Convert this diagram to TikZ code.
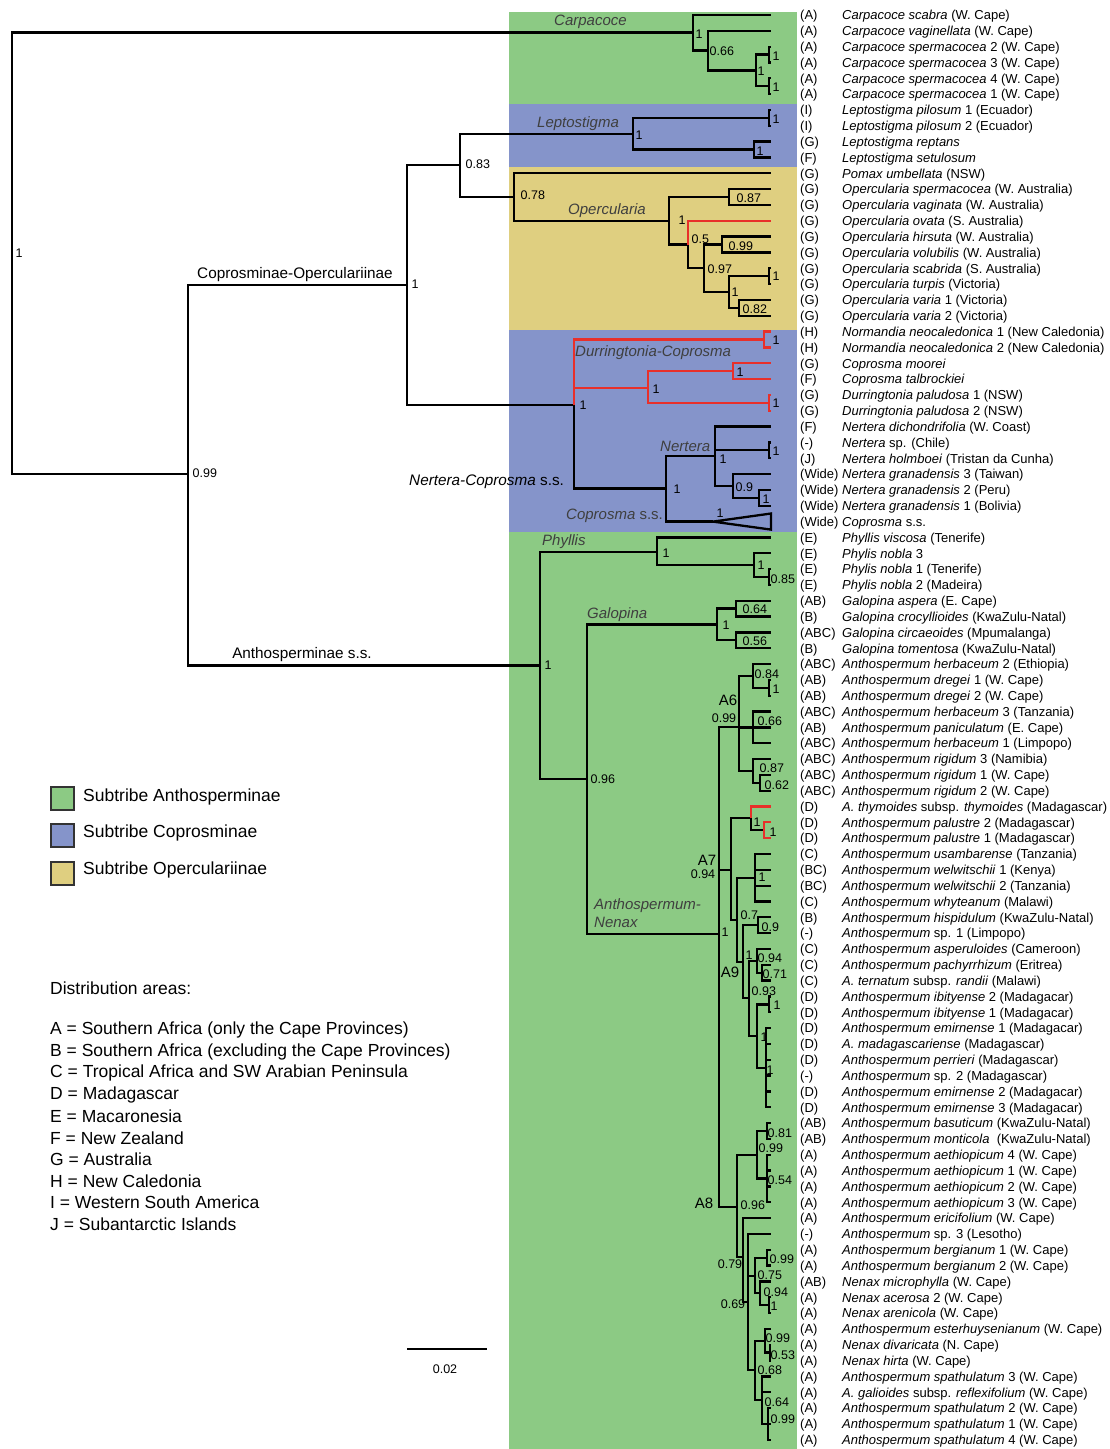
\documentclass[tikz,border=0pt]{standalone}
\usepackage{fontspec}
\setmainfont{Liberation Sans}
\usepackage{xcolor}
\usepackage{tikz}
\definecolor{trgreen}{HTML}{8CCA84}
\definecolor{trblue}{HTML}{8594CA}
\definecolor{tryellow}{HTML}{DFCF80}
\definecolor{trred}{HTML}{E8302A}
\definecolor{trgrey}{HTML}{3F3F3F}
\definecolor{trframe}{HTML}{333333}
\tikzset{
  br/.style={draw=black, line width=2.3pt},
  brred/.style={draw=trred, line width=2.3pt},
  sup/.style={anchor=west, inner sep=0.5pt, font=\fontsize{12.5}{14}\selectfont},
  supc/.style={inner sep=0.5pt, font=\fontsize{12.5}{14}\selectfont},
  clade/.style={anchor=west, inner sep=0pt, text=trgrey, font=\fontsize{15}{18}\selectfont\itshape},
  grp/.style={inner sep=0pt, font=\fontsize{15.3}{18}\selectfont},
  alab/.style={inner sep=0pt, font=\fontsize{15}{18}\selectfont},
  acode/.style={anchor=base west, inner sep=0pt, yshift=-4.8pt, font=\fontsize{13}{15}\selectfont},
  tlab/.style={anchor=base west, inner sep=0pt, yshift=-4.8pt, font=\fontsize{13}{15}\selectfont},
  legbox/.style={draw=trframe, line width=2pt, minimum size=23pt, inner sep=0pt},
  legtxt/.style={anchor=west, inner sep=0pt, font=\fontsize{17.5}{20}\selectfont}
}

\begin{document}
\begin{tikzpicture}[x=1pt, y=-1pt]
  \useasboundingbox (0,0) rectangle (1110,1449);
  % subtribe bands
  \fill[trgreen] (509,12) rectangle (797,104);
  \fill[trblue] (509,104) rectangle (797,167);
  \fill[tryellow] (509,167) rectangle (797,330);
  \fill[trblue] (509,330) rectangle (797,532);
  \fill[trgreen] (509,532) rectangle (797,1449);

  % tips and inner nodes
  \foreach \i in {1,...,91} \coordinate (t\i) at (771,{15+(\i-1)*15.83});
  \foreach \cn/\px/\py in {R/12/253, X/188/474, C1/693/32.5, C2/708/50.6, C3/756/70.4, C4/769/54.6, C5/769/86.2,
      CO/407/285, B/460/165, L1/633/133.7, L2/769/117.9, L3/754/149.6,
      O1/514/197.2, O2/669/221, O3/729/197, O4/688/244.5, O5/704/268, O6/722/244.5, O7/729/292, O8/769/276.2, O9/739/307.9,
      D0/574/405, D1/764/339.5, D2/648/387.8, D3/733/371.2, D4/769/402.8,
      N0/666/488.5, N1/715/456, N2/769/450.3, N3/733/486, N4/759/497.8, cs/713/521.6, csT/771/513.5, csB/771/529.6,
      A0/540/665.5, P1/657/552, P2/754/565, P3/769/577, G0/587/779, G1/717/624.5, G2/736/608.6, G3/736/640.3,
      AN/719/934, A6/739/727, A6a/753/676, A6b/769/687.8, A6c/753/727.4, A6d/753/771, A6e/760/782.8,
      A7/731/870, A7a/751/818, A7b/764/830.2, A7e/737/920, A7c/755/877.7,
      A9/743/962, A9a/758/925.2, A9b/749/998, A9c/757/961, A9e/762/972.7, A9d/757/1036, A9f/769/1004.4, A9g/766/1067.7,
      A8/737/1207, A8a/757/1155, A8j/767/1131, A8k/767/1178.5, A8b/743/1257, A8c/748/1302, A8d/755/1276,
      A8l/767/1257.7, A8f/760/1293, A8m/769/1305.1, A8e/755/1370, A8g/765/1341, A8n/770/1352.6, A8h/762/1400, A8i/768/1423.9}
    \coordinate (\cn) at (\px,\py);

  % branches
  \foreach \p/\c in {R/C1, R/X, C1/t1, C1/C2, C2/t2, C2/C3, C3/C4, C3/C5, C4/t3, C4/t4, C5/t5, C5/t6,
      X/CO, X/A0, CO/B, CO/D0, B/L1, B/O1, L1/L2, L1/L3, L2/t7, L2/t8, L3/t9, L3/t10,
      O1/t11, O1/O2, O2/O3, O2/O4, O3/t12, O3/t13, O4/O5, O5/O6, O5/O7, O6/t15, O6/t16,
      O7/O8, O7/O9, O8/t17, O8/t18, O9/t19, O9/t20,
      D0/N0, N0/N1, N0/cs, N1/t27, N1/N2, N1/N3, N2/t28, N2/t29, N3/t30, N3/N4, N4/t31, N4/t32,
      A0/P1, A0/G0, P1/t34, P1/P2, P2/t35, P2/P3, P3/t36, P3/t37,
      G0/G1, G0/AN, G1/G2, G1/G3, G2/t38, G2/t39, G3/t40, G3/t41,
      AN/A6, AN/A7, AN/A8,
      A6/A6a, A6/A6c, A6/A6d, A6a/t42, A6a/A6b, A6b/t43, A6b/t44, A6c/t45, A6c/t46, A6c/t47,
      A6d/t48, A6d/A6e, A6e/t49, A6e/t50,
      A7/A7a, A7/A7e, A7a/A7b, A7e/A7c, A7e/A9, A7c/t54, A7c/t55, A7c/t56, A7c/t57,
      A9/A9a, A9/A9b, A9a/t58, A9a/t59, A9b/A9c, A9b/A9d, A9c/t60, A9c/A9e, A9e/t61, A9e/t62,
      A9d/A9f, A9d/A9g, A9f/t63, A9f/t64, A9g/t65, A9g/t66, A9g/t67, A9g/t68, A9g/t69, A9g/t70,
      A8/A8a, A8/A8b, A8a/A8j, A8a/A8k, A8j/t71, A8j/t72, A8k/t73, A8k/t74, A8k/t75, A8k/t76,
      A8b/t77, A8b/A8c, A8c/t78, A8c/A8d, A8c/A8e, A8d/A8l, A8d/A8f, A8l/t79, A8l/t80,
      A8f/t81, A8f/A8m, A8m/t82, A8m/t83, A8e/A8g, A8e/A8h, A8g/t84, A8g/A8n, A8n/t85, A8n/t86,
      A8h/t87, A8h/t88, A8h/A8i, A8i/t89, A8i/t90, A8i/t91}
    \draw[br] (\p) |- (\c);
  \foreach \p/\c in {O4/t14, D0/D1, D0/D2, D1/t21, D1/t22, D2/D3, D2/D4, D3/t23, D3/t24,
      D4/t25, D4/t26, A7a/t51, A7b/t52, A7b/t53}
    \draw[brred] (\p) |- (\c);
  \draw[br] (cs) -- (csT) -- (csB) -- cycle;

  % support values
  \foreach \cn/\px/\py/\sv in {R/15/253/1, C1/695/34/1, C2/709/51/0.66, C3/757/71/1, C4/772/56/1, C5/772/87/1,
      L1/635/135/1, L2/772/119/1, L3/756/151/1, B/465/164/0.83,
      O1/520/195/0.78, O2/678/220/1, O3/736/198/0.87, O4/691/239/0.5, O5/707/269/0.97, O6/728/246/0.99,
      O7/731/292/1, O8/772/276/1, O9/742/309/0.82, CO/411/284/1, X/192/473/0.99,
      D0/579/405/1, D1/772/340/1, D2/652/389/1, D3/736/372/1, D4/772/403/1,
      N0/673/489/1, N1/719/459/1, N2/772/451/1, N3/735/487/0.9, N4/762/499/1, cs/716/513/1,
      A0/544/665/1, P1/662/553/1, P2/757/565/1, P3/770/579/0.85, G0/590/779/0.96, G1/722/625/1,
      G2/742/609/0.64, G3/742/641/0.56, AN/721/932/1,
      A6a/754/674/0.84, A6b/772/689/1, A6c/757/721/0.66, A6d/759/768/0.87, A6e/764/785/0.62,
      A7a/753/822/1, A7b/769/832/1, A7e/740/915/0.7, A7c/758/877/1,
      A9/745/955/1, A9a/761/927/0.9, A9b/751/991/0.93, A9c/757/958/0.94, A9e/762/974/0.71,
      A9d/760/1037/1, A9f/773/1005/1, A9g/766/1070/1,
      A8/740/1205/0.96, A8a/758/1148/0.99, A8j/767/1133/0.81, A8k/767/1180/0.54,
      A8d/757/1275/0.75, A8l/769/1259/0.99, A8f/763/1292/0.94, A8m/770/1306/1,
      A8e/757/1370/0.68, A8g/765/1338/0.99, A8n/770/1355/0.53, A8h/764/1402/0.64, A8i/770/1419/0.99}
    \node[sup] (s\cn) at (\px,\py) {\sv};
  \node[supc] (sA6) at (724,718) {0.99};
  \node[supc] (sA7) at (703,874) {0.94};
  \node[supc] (sA8b) at (730,1264) {0.79};
  \node[supc] (sA8c) at (733,1304) {0.69};
  \node[alab] (lA6) at (728,700) {A6};
  \node[alab] (lA7) at (707,860) {A7};
  \node[alab] (lA9) at (730,972) {A9};
  \node[alab] (lA8) at (704,1203) {A8};

  % group names
  \node[grp] (gCO) at (295,275) {Coprosminae-Operculariinae};
  \node[grp] (gAN) at (302,655) {Anthosperminae s.s.};
  \node[grp, anchor=west] (gNC) at (409,482) {\itshape Nertera-Coprosma\upshape\ s.s.};
  \node[clade] (cCa) at (554,22) {Carpacoce};
  \node[clade] (cLe) at (537,124) {Leptostigma};
  \node[clade] (cOp) at (568,211) {Opercularia};
  \node[clade] (cDu) at (575,353) {Durringtonia-Coprosma};
  \node[clade] (cNe) at (660,446) {Nertera};
  \node[clade] (cCo) at (566,516) {Coprosma\upshape\ s.s.};
  \node[clade] (cPh) at (542,542) {Phyllis};
  \node[clade] (cGa) at (587,615) {Galopina};
  \node[clade, align=left] (cAN) at (594,913) {Anthospermum-\\Nenax};

  % tip labels
  \foreach \ac/\nm [count=\i] in {
      (A)/{\textit{Carpacoce scabra} (W. Cape)}, (A)/{\textit{Carpacoce vaginellata} (W. Cape)},
      (A)/{\textit{Carpacoce spermacocea} 2 (W. Cape)}, (A)/{\textit{Carpacoce spermacocea} 3 (W. Cape)},
      (A)/{\textit{Carpacoce spermacocea} 4 (W. Cape)}, (A)/{\textit{Carpacoce spermacocea} 1 (W. Cape)},
      (I)/{\textit{Leptostigma pilosum} 1 (Ecuador)}, (I)/{\textit{Leptostigma pilosum} 2 (Ecuador)},
      (G)/{\textit{Leptostigma reptans}}, (F)/{\textit{Leptostigma setulosum}},
      (G)/{\textit{Pomax umbellata} (NSW)}, (G)/{\textit{Opercularia spermacocea} (W. Australia)},
      (G)/{\textit{Opercularia vaginata} (W. Australia)}, (G)/{\textit{Opercularia ovata} (S. Australia)},
      (G)/{\textit{Opercularia hirsuta} (W. Australia)}, (G)/{\textit{Opercularia volubilis} (W. Australia)},
      (G)/{\textit{Opercularia scabrida} (S. Australia)}, (G)/{\textit{Opercularia turpis} (Victoria)},
      (G)/{\textit{Opercularia varia} 1 (Victoria)}, (G)/{\textit{Opercularia varia} 2 (Victoria)},
      (H)/{\textit{Normandia neocaledonica} 1 (New Caledonia)}, (H)/{\textit{Normandia neocaledonica} 2 (New Caledonia)},
      (G)/{\textit{Coprosma moorei}}, (F)/{\textit{Coprosma talbrockiei}},
      (G)/{\textit{Durringtonia paludosa} 1 (NSW)}, (G)/{\textit{Durringtonia paludosa} 2 (NSW)},
      (F)/{\textit{Nertera dichondrifolia} (W. Coast)}, (-)/{\textit{Nertera} sp. (Chile)},
      (J)/{\textit{Nertera holmboei} (Tristan da Cunha)}, (Wide)/{\textit{Nertera granadensis} 3 (Taiwan)},
      (Wide)/{\textit{Nertera granadensis} 2 (Peru)}, (Wide)/{\textit{Nertera granadensis} 1 (Bolivia)},
      (Wide)/{\textit{Coprosma} s.s.}, (E)/{\textit{Phyllis viscosa} (Tenerife)},
      (E)/{\textit{Phylis nobla} 3}, (E)/{\textit{Phylis nobla} 1 (Tenerife)}, (E)/{\textit{Phylis nobla} 2 (Madeira)},
      (AB)/{\textit{Galopina aspera} (E. Cape)}, (B)/{\textit{Galopina crocyllioides} (KwaZulu-Natal)},
      (ABC)/{\textit{Galopina circaeoides} (Mpumalanga)}, (B)/{\textit{Galopina tomentosa} (KwaZulu-Natal)},
      (ABC)/{\textit{Anthospermum herbaceum} 2 (Ethiopia)}, (AB)/{\textit{Anthospermum dregei} 1 (W. Cape)},
      (AB)/{\textit{Anthospermum dregei} 2 (W. Cape)}, (ABC)/{\textit{Anthospermum herbaceum} 3 (Tanzania)},
      (AB)/{\textit{Anthospermum paniculatum} (E. Cape)}, (ABC)/{\textit{Anthospermum herbaceum} 1 (Limpopo)},
      (ABC)/{\textit{Anthospermum rigidum} 3 (Namibia)}, (ABC)/{\textit{Anthospermum rigidum} 1 (W. Cape)},
      (ABC)/{\textit{Anthospermum rigidum} 2 (W. Cape)}, (D)/{\textit{A. thymoides} subsp. \textit{thymoides} (Madagascar)},
      (D)/{\textit{Anthospermum palustre} 2 (Madagascar)}, (D)/{\textit{Anthospermum palustre} 1 (Madagascar)},
      (C)/{\textit{Anthospermum usambarense} (Tanzania)}, (BC)/{\textit{Anthospermum welwitschii} 1 (Kenya)},
      (BC)/{\textit{Anthospermum welwitschii} 2 (Tanzania)}, (C)/{\textit{Anthospermum whyteanum} (Malawi)},
      (B)/{\textit{Anthospermum hispidulum} (KwaZulu-Natal)}, (-)/{\textit{Anthospermum} sp. 1 (Limpopo)},
      (C)/{\textit{Anthospermum asperuloides} (Cameroon)}, (C)/{\textit{Anthospermum pachyrrhizum} (Eritrea)},
      (C)/{\textit{A. ternatum} subsp. \textit{randii} (Malawi)}, (D)/{\textit{Anthospermum ibityense} 2 (Madagacar)},
      (D)/{\textit{Anthospermum ibityense} 1 (Madagacar)}, (D)/{\textit{Anthospermum emirnense} 1 (Madagacar)},
      (D)/{\textit{A. madagascariense} (Madagascar)}, (D)/{\textit{Anthospermum perrieri} (Madagascar)},
      (-)/{\textit{Anthospermum} sp. 2 (Madagascar)}, (D)/{\textit{Anthospermum emirnense} 2 (Madagacar)},
      (D)/{\textit{Anthospermum emirnense} 3 (Madagacar)}, (AB)/{\textit{Anthospermum basuticum} (KwaZulu-Natal)},
      (AB)/{\textit{Anthospermum monticola}\ \ (KwaZulu-Natal)}, (A)/{\textit{Anthospermum aethiopicum} 4 (W. Cape)},
      (A)/{\textit{Anthospermum aethiopicum} 1 (W. Cape)}, (A)/{\textit{Anthospermum aethiopicum} 2 (W. Cape)},
      (A)/{\textit{Anthospermum aethiopicum} 3 (W. Cape)}, (A)/{\textit{Anthospermum ericifolium} (W. Cape)},
      (-)/{\textit{Anthospermum} sp. 3 (Lesotho)}, (A)/{\textit{Anthospermum bergianum} 1 (W. Cape)},
      (A)/{\textit{Anthospermum bergianum} 2 (W. Cape)}, (AB)/{\textit{Nenax microphylla} (W. Cape)},
      (A)/{\textit{Nenax acerosa} 2 (W. Cape)}, (A)/{\textit{Nenax arenicola} (W. Cape)},
      (A)/{\textit{Anthospermum esterhuysenianum} (W. Cape)}, (A)/{\textit{Nenax divaricata} (N. Cape)},
      (A)/{\textit{Nenax hirta} (W. Cape)}, (A)/{\textit{Anthospermum spathulatum} 3 (W. Cape)},
      (A)/{\textit{A. galioides} subsp. \textit{reflexifolium} (W. Cape)}, (A)/{\textit{Anthospermum spathulatum} 2 (W. Cape)},
      (A)/{\textit{Anthospermum spathulatum} 1 (W. Cape)}, (A)/{\textit{Anthospermum spathulatum} 4 (W. Cape)}}
  {
    \node[acode] (ac\i) at (800,{15+(\i-1)*15.83}) {\ac};
    \node[tlab] (tn\i) at (842,{15+(\i-1)*15.83}) {\nm};
  }

  % legend
  \node[legbox, fill=trgreen] (lg1) at (62.5,798.5) {};
  \node[legbox, fill=trblue] (lg2) at (62.5,835.5) {};
  \node[legbox, fill=tryellow] (lg3) at (62.5,873.5) {};
  \node[legtxt] (lt1) at (83,797) {Subtribe Anthosperminae};
  \node[legtxt] (lt2) at (83,833) {Subtribe Coprosminae};
  \node[legtxt] (lt3) at (83,870) {Subtribe Operculariinae};
  \node[legtxt] (dhead) at (50,988) {Distribution areas:};
  \foreach \ar [count=\i] in {A = Southern Africa (only the Cape Provinces),
      B = Southern Africa (excluding the Cape Provinces), C = Tropical Africa and SW Arabian Peninsula,
      D = Madagascar, E = Macaronesia, F = New Zealand, G = Australia, H = New Caledonia,
      I = Western South America, J = Subantarctic Islands}
    \node[legtxt] (da\i) at (50,{1030+(\i-1)*21.56}) {\ar};

  % scale bar
  \coordinate (sb1) at (407,1349);
  \coordinate (sb2) at (487,1349);
  \draw[br] (sb1) -- (sb2);
  \node[supc] (sbl) at (445,1369) {0.02};
\end{tikzpicture}
\end{document}
